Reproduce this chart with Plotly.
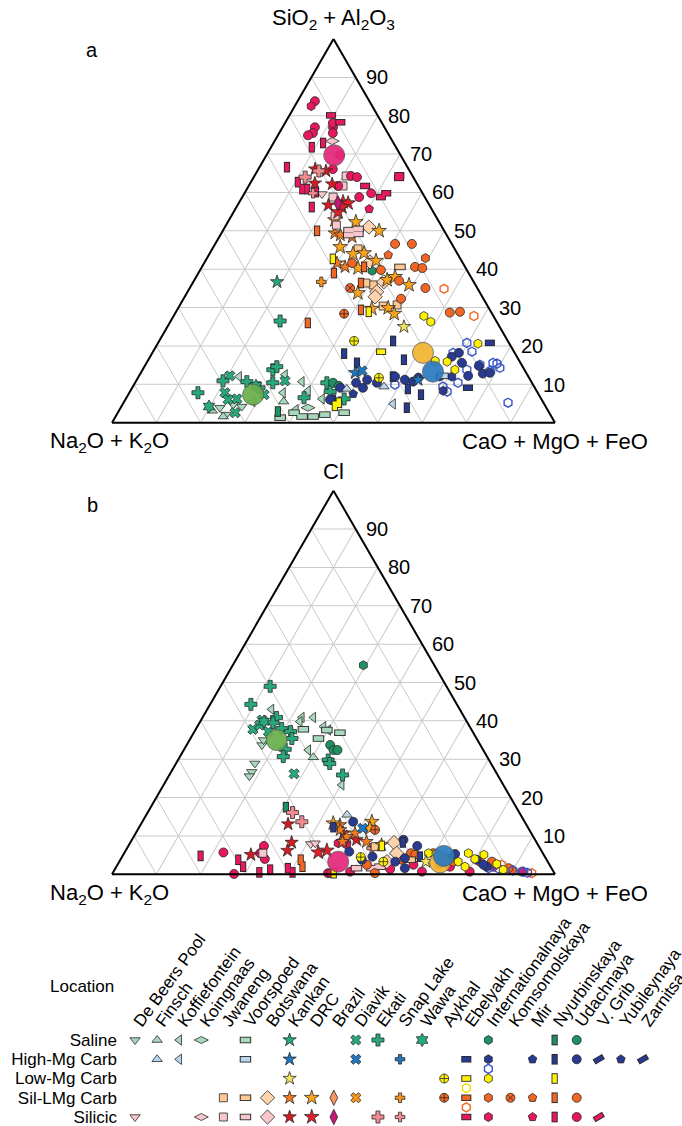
import plotly.graph_objects as go

W, H = 682, 1126
FONT = 'Arial, "Liberation Sans", Helvetica, sans-serif'

# ---------------- axis / label text ----------------
TOP_A_TITLE = 'SiO<sub>2</sub> + Al<sub>2</sub>O<sub>3</sub>'
BOT_A_TITLE = 'Cl'
B_TITLE = 'Na<sub>2</sub>O + K<sub>2</sub>O'
C_TITLE = 'CaO + MgO + FeO'
GRID_VALS = [10, 20, 30, 40, 50, 60, 70, 80, 90]
TICK_LABELS = ['10', '20', '30', '40', '50', '60', '70', '80', '90']

LOCATIONS = ['De Beers Pool', 'Finsch', 'Koffiefontein', 'Koingnaas', 'Jwaneng', 'Voorspoed',
             'Botswana', 'Kankan', 'DRC', 'Brazil', 'Diavik', 'Ekati', 'Snap Lake', 'Wawa',
             'Aykhal', 'Ebelyakh', 'Internationalnaya', 'Komsomolskaya', 'Mir', 'Nyurbinskaya',
             'Udachnaya', 'V. Grib', 'Yubileynaya', 'Zarnitsa']
ROW_NAMES = ['Saline', 'High-Mg Carb', 'Low-Mg Carb', 'Sil-LMg Carb', 'Silicic']
ROW_POS = [4, 3, 2, 1, 0]

# ---------------- panel a: SiO2+Al2O3 (si) vs CaO+MgO+FeO (cmf), Na2O+K2O = remainder -------------
t_dbp_sal_si = [3.9, 2.1, 4.2, 4.7];             t_dbp_sal_cmf = [22.4, 24.7, 27.2, 25.0]
t_fin_sal_si = [3.1, 1.6, 5.5];                  t_fin_sal_cmf = [21.1, 24.3, 36.0]
t_kof_sal_si = [12.0, 12.5, 10.7, 7.8, 8.3, 6.2, 3.4, 5.5]
t_kof_sal_cmf = [22.7, 32.8, 37.5, 34.7, 40.1, 44.3, 39.8, 29.0]
t_koi_sal_si = [3.9];                            t_koi_sal_cmf = [42.3]
t_voo_sal_si = [1.3, 2.6, 1.6, 1.6, 2.1, 2.6];   t_voo_sal_cmf = [37.3, 39.8, 42.1, 44.6, 47.0, 51.1]
t_kan_sal_si = [36.7];                           t_kan_sal_cmf = [18.9]
t_dia_sal_si = [12.2, 7.8, 6.2, 7.3, 10.9, 2.6, 6.0]
t_dia_sal_cmf = [20.5, 21.6, 25.1, 30.7, 33.6, 26.5, 23.2]
t_eka_sal_si = [26.5, 7.8, 10.9, 10.7, 13.8, 10.4, 6.5, 10.4, 8.1, 6.2, 9.1, 14.6]
t_eka_sal_cmf = [24.7, 15.5, 19.6, 25.1, 29.4, 31.1, 40.1, 43.3, 45.2, 49.3, 28.6, 29.9]
t_waw_sal_si = [4.2, 9.6];                       t_waw_sal_cmf = [19.8, 27.7]
t_int_sal_si = [39.6];                           t_int_sal_cmf = [38.9]
t_nyu_sal_si = [2.9];                            t_nyu_sal_cmf = [36.0]
t_uda_sal_si = [10.4, 9.6];                      t_uda_sal_cmf = [44.7, 46.4]

t_fin_hmg_si = [9.4, 8.8];                       t_fin_hmg_cmf = [56.7, 48.6]
t_kof_hmg_si = [4.9];                            t_kof_hmg_cmf = [61.0]
t_voo_hmg_si = [12.2];                           t_voo_hmg_cmf = [68.6]
t_kan_hmg_si = [13.0, 11.2];                     t_kan_hmg_cmf = [48.4, 63.5]
t_dia_hmg_si = [13.5];                           t_dia_hmg_cmf = [49.7]
t_ebe_hmg_si = [20.8, 9.1];                      t_ebe_hmg_cmf = [74.9, 75.8]
t_int_hmg_si = [12.0, 12.0, 8.3];                t_int_hmg_cmf = [68.0, 70.7, 70.6]
t_into_hmg_si = [20.8, 18.2, 18.5, 13.8, 10.4, 15.1, 15.6, 15.4, 13.5, 14.3, 9.4, 8.1, 9.9, 5.2]
t_into_hmg_cmf = [69.7, 67.9, 72.0, 73.2, 72.9, 75.5, 78.2, 79.2, 78.6, 80.4, 70.0, 71.6, 58.9, 86.8]
t_mir_hmg_si = [7.5];                            t_mir_hmg_cmf = [50.7]
t_nyu_hmg_si = [21.3, 18.0, 15.6, 16.4, 12.0, 8.8, 7.3, 3.9, 6.0]
t_nyu_hmg_cmf = [52.8, 43.4, 47.5, 57.7, 57.4, 62.4, 66.1, 64.6, 46.9]
t_uda_hmg_si = [18.2, 17.2, 15.6, 14.8, 12.2, 12.8, 10.4, 11.2, 10.4, 9.1, 9.1, 12.0, 11.2, 10.7,
                11.7, 13.0, 6.0]
t_uda_hmg_cmf = [69.2, 68.1, 71.2, 75.4, 74.3, 77.3, 49.9, 52.0, 54.6, 52.1, 47.0, 57.9, 60.5, 62.6,
                 63.3, 78.8, 46.2]

t_kan_lmg_si = [25.0];                           t_kan_lmg_cmf = [53.4]
t_ayk_lmg_si = [21.3, 11.7];                     t_ayk_lmg_cmf = [44.0, 54.4]
t_ebe_lmg_si = [18.5];                           t_ebe_lmg_cmf = [51.5]
t_int_lmg_si = [27.8, 26.3, 20.6, 16.1, 15.9, 13.8]
t_int_lmg_cmf = [56.5, 58.8, 72.3, 64.9, 67.7, 70.5]
t_nyu_lmg_si = [42.7, 28.9, 4.4, 5.2];           t_nyu_lmg_cmf = [28.5, 43.5, 48.1, 48.6]

t_jwa_slm_si = [45.3, 35.9, 30.4, 30.7, 36.4];   t_jwa_slm_cmf = [32.9, 41.0, 46.0, 49.0, 39.1]
t_voo_slm_si = [40.6];                           t_voo_slm_cmf = [44.7]
t_bot_slm_si = [51.0, 41.9, 36.7, 34.1, 32.8];   t_bot_slm_cmf = [32.5, 37.3, 43.0, 42.7, 43.0]
t_kan_slm_si = [49.4, 48.9, 48.4, 40.6, 41.6];   t_kan_slm_cmf = [25.6, 27.1, 30.0, 32.3, 30.0]
t_drc_slm_si = [52.8, 52.3, 50.0, 45.8, 44.0, 44.2, 40.3, 42.2, 37.2, 38.0, 35.9, 33.8, 29.9, 28.4, 29.7]
t_drc_slm_cmf = [23.9, 28.9, 35.3, 28.6, 32.4, 34.8, 35.4, 38.5, 43.5, 44.9, 49.1, 38.6, 47.4, 49.5, 43.8]
t_sna_slm_si = [36.7];                           t_sna_slm_cmf = [28.9]
t_ayk_slm_si = [28.4];                           t_ayk_slm_cmf = [38.2]
t_ebeo_slm_si = [34.9, 27.8];                    t_ebeo_slm_cmf = [57.5, 67.8]
t_kom_slm_si = [35.1];                           t_kom_slm_cmf = [36.2]
t_mir_slm_si = [43.7];                           t_mir_slm_cmf = [40.5]
t_int_slm_si = [42.9];                           t_int_slm_cmf = [49.3]
t_nyu_slm_si = [50.0, 40.6, 39.0, 36.4, 29.4, 26.0]
t_nyu_slm_cmf = [21.3, 36.6, 30.6, 38.0, 41.5, 31.2]
t_uda_slm_si = [46.6, 46.6, 40.6, 40.3, 41.6, 39.8, 35.1, 37.0, 32.3, 28.7, 28.9]
t_uda_slm_cmf = [40.6, 44.4, 48.1, 49.9, 33.4, 40.8, 53.2, 46.3, 49.1, 61.9, 64.1]

t_dbp_sil_si = [59.6];                           t_dbp_sil_cmf = [17.6]
t_koi_sil_si = [73.4];                           t_koi_sil_cmf = [13.0]
t_jwa_sil_si = [64.3, 61.7, 58.8, 53.9, 51.5];   t_jwa_sil_cmf = [20.7, 21.3, 20.5, 23.4, 24.9]
t_voo_sil_si = [50.2, 50.5, 48.9, 49.2];         t_voo_sil_cmf = [28.4, 30.3, 29.0, 30.9]
t_kan_sil_si = [66.1, 65.6, 62.4, 62.2, 56.7];   t_kan_sil_cmf = [12.8, 15.5, 14.6, 18.6, 20.5]
t_drc_sil_si = [57.5, 57.2, 56.2, 54.9];         t_drc_sil_cmf = [23.4, 24.7, 23.8, 23.6]
t_bra_sil_si = [57.2];                           t_bra_sil_cmf = [22.4]
t_eka_sil_si = [65.6, 64.0];                     t_eka_sil_cmf = [13.9, 11.6]
t_sna_sil_si = [59.8];                           t_sna_sil_cmf = [15.5]
t_ebe_sil_si = [80.1, 78.3, 61.7, 59.8, 58.8, 64.5, 63.8]
t_ebe_sil_cmf = [9.4, 12.4, 26.3, 32.0, 31.3, 32.6, 32.9]
t_int_sil_si = [82.5];                           t_int_sil_cmf = [3.7]
t_mir_sil_si = [55.7];                           t_mir_sil_cmf = [30.2]
t_nyu_sil_si = [72.9, 71.8, 66.6, 62.7, 60.9, 60.9, 60.1, 56.2]
t_nyu_sil_cmf = [11.2, 9.2, 6.2, 10.6, 12.5, 13.6, 16.0, 17.0]
t_uda_sil_si = [83.8, 77.0, 75.5, 74.9, 77.0, 75.5, 69.7, 66.1, 64.3, 64.0, 61.7, 58.8, 59.8, 78.1]
t_uda_sil_cmf = [3.9, 7.3, 7.6, 6.8, 11.4, 12.1, 16.6, 16.8, 21.8, 23.3, 20.2, 26.4, 28.6, 10.8]

# group means (Silicic, Saline, Low-Mg, High-Mg)
t_mean_si = [69.7, 7.3, 18.2, 13.3]
t_mean_cmf = [15.3, 28.2, 61.1, 65.8]

# ---------------- panel b: Cl (cl) vs CaO+MgO+FeO (cmf), Na2O+K2O = remainder ----------------
b_dbp_sal_cl = [28.9, 26.7, 25.6, 33.7, 35.0];   b_dbp_sal_cmf = [17.8, 18.2, 18.2, 17.0, 16.7]
b_fin_sal_cl = [30.5];                           b_fin_sal_cmf = [30.2]
b_kof_sal_cl = [43.0, 40.9, 40.9, 39.8, 38.5, 37.6, 32.4, 23.3]
b_kof_sal_cmf = [14.5, 22.4, 25.0, 22.5, 28.5, 30.0, 28.1, 40.2]
b_voo_sal_cl = [36.9, 35.4, 37.8, 37.6];         b_voo_sal_cmf = [33.0, 28.9, 24.3, 29.7]
b_dia_sal_cl = [40.2, 37.8, 38.9, 37.2, 26.2];   b_dia_sal_cmf = [13.8, 12.9, 13.9, 16.7, 28.0]
b_eka_sal_cl = [49.0, 44.3, 40.9, 39.5, 38.0, 37.2, 35.4, 32.6, 30.7, 29.8, 28.9, 25.9]
b_eka_sal_cmf = [11.2, 9.2, 16.7, 16.6, 19.3, 21.7, 22.9, 22.8, 23.3, 33.9, 34.7, 39.1]
b_waw_sal_cl = [39.8];                           b_waw_sal_cmf = [14.4]
b_int_sal_cl = [54.5];                           b_int_sal_cmf = [29.5]
b_uda_sal_cl = [33.7, 32.4, 32.4];               b_uda_sal_cmf = [32.4, 33.8, 34.7]
b_nyu_sal_cl = [17.5];                           b_nyu_sal_cmf = [30.5]

b_fin_hmg_cl = [15.5];                           b_fin_hmg_cmf = [45.3]
b_dia_hmg_cl = [12.0];                           b_dia_hmg_cmf = [50.6]
b_nyu_hmg_cl = [12.3, 8.3, 4.6];                 b_nyu_hmg_cmf = [43.8, 61.5, 67.2]
b_uda_hmg_cl = [13.7, 7.4, 4.2, 5.3, 2.0, 9.0, 3.8, 2.5, 1.6, 3.3, 2.5, 4.6, 3.8, 5.9]
b_uda_hmg_cmf = [47.6, 65.2, 64.0, 74.8, 83.6, 61.3, 80.4, 82.6, 65.3, 62.3, 72.6, 56.5, 54.5, 50.6]
b_into_hmg_cl = [1.6, 1.5, 0.7, 0.4, 1.0];       b_into_hmg_cmf = [84.2, 86.5, 92.5, 93.6, 90.0]

b_kan_lmg_cl = [3.3];                            b_kan_lmg_cmf = [69.2]
b_ayk_lmg_cl = [4.5, 3.3];                       b_ayk_lmg_cmf = [53.9, 59.6]
b_nyu_lmg_cl = [7.4, 0.3];                       b_nyu_lmg_cmf = [57.2, 49.9]
b_int_lmg_cl = [5.5, 5.3, 3.3, 5.5, 4.0, 5.1, 2.0, 1.2, 3.8, 2.7]
b_int_lmg_cmf = [68.7, 70.5, 76.5, 77.7, 79.9, 81.4, 78.7, 87.7, 73.7, 85.5]

b_drc_slm_cl = [13.7, 13.3, 12.0];               b_drc_slm_cmf = [51.8, 43.3, 52.2]
b_kan_slm_cl = [12.9, 11.6, 10.7, 9.8, 8.5, 7.7, 8.5]
b_kan_slm_cmf = [45.0, 45.7, 49.5, 48.1, 53.2, 57.0, 47.8]
b_ayk_slm_cl = [11.6];                           b_ayk_slm_cmf = [53.6]
b_bot_slm_cl = [8.3, 5.5, 3.3];                  b_bot_slm_cmf = [59.5, 61.5, 60.4]
b_jwa_slm_cl = [7.2];                            b_jwa_slm_cmf = [55.8]
b_voo_slm_cl = [3.8];                            b_voo_slm_cmf = [65.4]
b_int_slm_cl = [4.2];                            b_int_slm_cmf = [74.2]
b_uda_slm_cl = [5.5, 3.3, 2.9, 1.2, 2.5, 0.3, 3.8, 5.1, 5.5, 3.3, 3.3, 1.6]
b_uda_slm_cmf = [64.7, 81.4, 84.6, 89.6, 56.3, 59.2, 63.5, 65.9, 69.8, 75.4, 84.1, 88.7]
b_nyu_slm_cl = [3.8, 2.0];                       b_nyu_slm_cmf = [40.7, 42.0]
b_ebeo_slm_cl = [2.5, 0.3];                      b_ebeo_slm_cmf = [86.7, 94.6]

b_dbp_sil_cl = [7.9, 8.1];                       b_dbp_sil_cmf = [40.9, 41.8]
b_jwa_sil_cl = [5.5];                            b_jwa_sil_cmf = [31.3]
b_voo_sil_cl = [1.6, 1.6, 2.0];                  b_voo_sil_cmf = [54.4, 57.8, 59.5]
b_kan_sil_cl = [13.1, 8.3, 6.2, 5.1, 10.7, 9.0]; b_kan_sil_cmf = [33.2, 36.4, 36.5, 28.8, 46.9, 50.7]
b_drc_sil_cl = [6.2, 5.7];                       b_drc_sil_cmf = [45.4, 43.7]
b_bra_sil_cl = [9.2];                            b_bra_sil_cmf = [48.2]
b_eka_sil_cl = [16.1, 13.7];                     b_eka_sil_cmf = [32.7, 36.0]
b_sna_sil_cl = [6.8];                            b_sna_sil_cmf = [55.2]
b_int_sil_cl = [0.3, 7.7, 8.1];                  b_int_sil_cmf = [49.1, 49.1, 47.0]
b_nyu_sil_cl = [4.8, 3.8, 2.0, 0.5, 1.2, 1.6, 0.5]
b_nyu_sil_cmf = [17.6, 26.6, 28.6, 33.0, 35.1, 38.9, 40.5]
b_uda_sil_cl = [5.7, 0.1, 7.4, 5.5, 4.0, 0.7, 1.4, 2.5, 0.7, 2.0, 0.7, 2.0, 0.3, 0.7]
b_uda_sil_cmf = [22.3, 27.5, 30.6, 30.7, 32.5, 53.4, 62.1, 66.8, 69.6, 75.3, 80.4, 85.1, 48.6, 92.2]

b_mean_cl = [3.3, 35.0, 3.1, 4.8]
b_mean_cmf = [49.4, 19.7, 72.5, 72.5]

# ---------------- legend matrix (location, row position, group) ----------------
leg_loc = ['De Beers Pool', 'De Beers Pool', 'Finsch', 'Finsch', 'Koffiefontein', 'Koffiefontein',
           'Koingnaas', 'Koingnaas', 'Jwaneng', 'Jwaneng',
           'Voorspoed', 'Voorspoed', 'Voorspoed', 'Voorspoed', 'Botswana', 'Botswana',
           'Kankan', 'Kankan', 'Kankan', 'Kankan', 'Kankan', 'DRC', 'DRC', 'Brazil', 'Brazil',
           'Diavik', 'Diavik', 'Diavik', 'Ekati', 'Ekati', 'Snap Lake', 'Snap Lake', 'Snap Lake',
           'Wawa', 'Aykhal', 'Aykhal',
           'Ebelyakh', 'Ebelyakh', 'Ebelyakh', 'Ebelyakh', 'Ebelyakh', 'Ebelyakh',
           'Internationalnaya', 'Internationalnaya', 'Internationalnaya', 'Internationalnaya',
           'Internationalnaya', 'Internationalnaya', 'Komsomolskaya', 'Mir', 'Mir', 'Mir',
           'Nyurbinskaya', 'Nyurbinskaya', 'Nyurbinskaya', 'Nyurbinskaya', 'Nyurbinskaya',
           'Udachnaya', 'Udachnaya', 'Udachnaya', 'Udachnaya', 'V. Grib', 'V. Grib',
           'Yubileynaya', 'Zarnitsa']
leg_row = [4, 0, 4, 3, 4, 3, 4, 0, 1, 0,
           4, 3, 1, 0, 1, 0,
           4, 3, 2, 1, 0, 1, 0, 1, 0,
           4, 3, 1, 4, 0, 3, 1, 0,
           4, 2, 1,
           3, 2, 1.5, 1, 0.5, 0,
           4, 3, 2.5, 2, 1, 0, 1, 3, 1, 0,
           4, 3, 2, 1, 0,
           4, 3, 1, 0, 3, 0,
           3, 3]
leg_key = ['DBP_SAL', 'DBP_SIL', 'FIN_SAL', 'FIN_HMG', 'KOF_SAL', 'KOF_HMG', 'KOI_SAL', 'KOI_SIL',
           'JWA_SLM', 'JWA_SIL', 'VOO_SAL', 'VOO_HMG', 'VOO_SLM', 'VOO_SIL', 'BOT_SLM', 'BOT_SIL',
           'KAN_SAL', 'KAN_HMG', 'KAN_LMG', 'KAN_SLM', 'KAN_SIL', 'DRC_SLM', 'DRC_SIL',
           'BRA_SLM', 'BRA_SIL', 'DIA_SAL', 'DIA_HMG', 'DIA_SLM', 'EKA_SAL', 'EKA_SIL',
           'SNA_HMG', 'SNA_SLM', 'SNA_SIL', 'WAW_SAL', 'AYK_LMG', 'AYK_SLM',
           'EBE_HMG', 'EBE_LMG', 'EBEO_LMG', 'EBE_SLM', 'EBEO_SLM', 'EBE_SIL',
           'INT_SAL', 'INT_HMG', 'INTO_HMG', 'INT_LMG', 'INT_SLM', 'INT_SIL', 'KOM_SLM',
           'MIR_HMG', 'MIR_SLM', 'MIR_SIL',
           'NYU_SAL', 'NYU_HMG', 'NYU_LMG', 'NYU_SLM', 'NYU_SIL',
           'UDA_SAL', 'UDA_HMG', 'UDA_SLM', 'UDA_SIL', 'VGR_HMG', 'VGR_SIL', 'YUB_HMG', 'ZAR_HMG']

# ---------------- styles ----------------
OUT = '#2a2a2a'
SAL_LT, SAL_GR, SAL_DK = '#a9d9bc', '#27a97c', '#1f9061'
HMG_LT, HMG_BL, NAVY, HMG_OPEN = '#bcd6ee', '#1f77bf', '#283a91', '#3a55c8'
YEL, YEL_KAN = '#fff200', '#f1e55e'
ORG, ORG_LT, ORG_BOT, ORG_DRC, ORG_DIA, ORG_KAN, ORG_BRA = ('#f26522', '#fdc893', '#fcd3ad',
                                                            '#f9a41b', '#f7941d', '#f47a20', '#f5955e')
MAG, SIL_LT, SIL_RED, SIL_RED2, SIL_BRA, SIL_PINK = ('#e8185e', '#f7c7cc', '#d71920', '#e3202a',
                                                      '#c4177a', '#f28a90')

STYLE = {
    'DBP_SAL': ('triangle-down', SAL_LT, 9), 'FIN_SAL': ('triangle-up', SAL_LT, 9),
    'KOF_SAL': ('triangle-left', SAL_LT, 9), 'KOI_SAL': ('diamond-wide', SAL_LT, 10),
    'VOO_SAL': ('rect', SAL_LT, 0), 'KAN_SAL': ('star', SAL_GR, 10), 'DIA_SAL': ('x', SAL_GR, 9),
    'EKA_SAL': ('cross', SAL_GR, 10), 'WAW_SAL': ('hexagram', SAL_GR, 10),
    'INT_SAL': ('hexagon', SAL_DK, 9), 'NYU_SAL': ('vell', SAL_DK, 0), 'UDA_SAL': ('circle', SAL_DK, 9),
    'FIN_HMG': ('triangle-up', HMG_LT, 9), 'KOF_HMG': ('triangle-left', HMG_LT, 9),
    'VOO_HMG': ('rect', HMG_LT, 0), 'KAN_HMG': ('star', HMG_BL, 10), 'DIA_HMG': ('x', HMG_BL, 9),
    'SNA_HMG': ('cross', HMG_BL, 8), 'EBE_HMG': ('hell', NAVY, 0), 'INT_HMG': ('hexagon', NAVY, 9),
    'INTO_HMG': ('hexagon-open', HMG_OPEN, 9), 'MIR_HMG': ('pentagon', NAVY, 9),
    'NYU_HMG': ('vell', NAVY, 0), 'UDA_HMG': ('circle', NAVY, 9), 'VGR_HMG': ('tell', NAVY, 0),
    'YUB_HMG': ('pentagon', NAVY, 9), 'ZAR_HMG': ('tell', NAVY, 0),
    'KAN_LMG': ('star', YEL_KAN, 10), 'AYK_LMG': ('circle-cross', YEL, 9), 'EBE_LMG': ('hell', YEL, 0),
    'EBEO_LMG': ('hexagon-open', '#f2e200', 9), 'INT_LMG': ('hexagon', YEL, 9),
    'NYU_LMG': ('vell', YEL, 0),
    'JWA_SLM': ('square', ORG_LT, 8), 'VOO_SLM': ('rect', ORG_LT, 0), 'BOT_SLM': ('diamond', ORG_BOT, 11),
    'KAN_SLM': ('star', ORG_KAN, 10), 'DRC_SLM': ('star', ORG_DRC, 11), 'BRA_SLM': ('diamond-tall', ORG_BRA, 11),
    'DIA_SLM': ('x', ORG_DIA, 9), 'SNA_SLM': ('cross', ORG_DIA, 8), 'AYK_SLM': ('circle-cross', ORG, 9),
    'EBE_SLM': ('hell', ORG, 0), 'EBEO_SLM': ('hexagon-open', ORG, 9), 'INT_SLM': ('hexagon', ORG, 9),
    'KOM_SLM': ('circle-x', ORG, 9), 'MIR_SLM': ('pentagon', ORG, 9), 'NYU_SLM': ('vell', ORG, 0),
    'UDA_SLM': ('circle', ORG, 9),
    'DBP_SIL': ('triangle-down', SIL_LT, 9), 'KOI_SIL': ('diamond-wide', SIL_LT, 10),
    'JWA_SIL': ('square', SIL_LT, 8), 'VOO_SIL': ('rect', SIL_LT, 0), 'BOT_SIL': ('diamond', SIL_LT, 11),
    'KAN_SIL': ('star', SIL_RED, 10), 'DRC_SIL': ('star', SIL_RED2, 11), 'BRA_SIL': ('diamond-tall', SIL_BRA, 11),
    'EKA_SIL': ('cross', SIL_PINK, 10), 'SNA_SIL': ('cross', SIL_PINK, 8), 'EBE_SIL': ('hell', MAG, 0),
    'INT_SIL': ('hexagon', MAG, 9), 'MIR_SIL': ('pentagon', MAG, 9), 'NYU_SIL': ('vell', MAG, 0),
    'UDA_SIL': ('circle', MAG, 9), 'VGR_SIL': ('tell', MAG, 0),
}
# elongated marks: (plotly line symbol, angle, marker size, stroke thickness); plotly draws
# line symbols 1.4x the marker size long
LINE_MARKS = {'rect': ('line-ew-open', 0, 8.2, 6.5), 'hell': ('line-ew-open', 0, 7.2, 6.5),
              'vell': ('line-ns-open', 0, 7.6, 6.2), 'tell': ('line-ew-open', -30, 7.8, 5.8)}
MEAN_COLORS = ['#e5287c', '#6ab04c', '#f2b533', '#2b7bbf']

TOP_GROUPS = [
    ('DBP_SAL', t_dbp_sal_si, t_dbp_sal_cmf), ('FIN_SAL', t_fin_sal_si, t_fin_sal_cmf),
    ('KOF_SAL', t_kof_sal_si, t_kof_sal_cmf), ('KOI_SAL', t_koi_sal_si, t_koi_sal_cmf),
    ('VOO_SAL', t_voo_sal_si, t_voo_sal_cmf), ('KAN_SAL', t_kan_sal_si, t_kan_sal_cmf),
    ('DIA_SAL', t_dia_sal_si, t_dia_sal_cmf), ('EKA_SAL', t_eka_sal_si, t_eka_sal_cmf),
    ('WAW_SAL', t_waw_sal_si, t_waw_sal_cmf), ('INT_SAL', t_int_sal_si, t_int_sal_cmf),
    ('NYU_SAL', t_nyu_sal_si, t_nyu_sal_cmf), ('UDA_SAL', t_uda_sal_si, t_uda_sal_cmf),
    ('JWA_SLM', t_jwa_slm_si, t_jwa_slm_cmf), ('VOO_SLM', t_voo_slm_si, t_voo_slm_cmf),
    ('BOT_SLM', t_bot_slm_si, t_bot_slm_cmf), ('KAN_SLM', t_kan_slm_si, t_kan_slm_cmf),
    ('DRC_SLM', t_drc_slm_si, t_drc_slm_cmf), ('SNA_SLM', t_sna_slm_si, t_sna_slm_cmf),
    ('AYK_SLM', t_ayk_slm_si, t_ayk_slm_cmf), ('EBEO_SLM', t_ebeo_slm_si, t_ebeo_slm_cmf),
    ('KOM_SLM', t_kom_slm_si, t_kom_slm_cmf), ('MIR_SLM', t_mir_slm_si, t_mir_slm_cmf),
    ('INT_SLM', t_int_slm_si, t_int_slm_cmf), ('NYU_SLM', t_nyu_slm_si, t_nyu_slm_cmf),
    ('UDA_SLM', t_uda_slm_si, t_uda_slm_cmf),
    ('DBP_SIL', t_dbp_sil_si, t_dbp_sil_cmf), ('KOI_SIL', t_koi_sil_si, t_koi_sil_cmf),
    ('JWA_SIL', t_jwa_sil_si, t_jwa_sil_cmf), ('VOO_SIL', t_voo_sil_si, t_voo_sil_cmf),
    ('NYU_SIL', t_nyu_sil_si, t_nyu_sil_cmf), ('UDA_SIL', t_uda_sil_si, t_uda_sil_cmf),
    ('EBE_SIL', t_ebe_sil_si, t_ebe_sil_cmf), ('INT_SIL', t_int_sil_si, t_int_sil_cmf),
    ('MIR_SIL', t_mir_sil_si, t_mir_sil_cmf), ('KAN_SIL', t_kan_sil_si, t_kan_sil_cmf),
    ('DRC_SIL', t_drc_sil_si, t_drc_sil_cmf), ('BRA_SIL', t_bra_sil_si, t_bra_sil_cmf),
    ('EKA_SIL', t_eka_sil_si, t_eka_sil_cmf), ('SNA_SIL', t_sna_sil_si, t_sna_sil_cmf),
    ('INTO_HMG', t_into_hmg_si, t_into_hmg_cmf), ('NYU_HMG', t_nyu_hmg_si, t_nyu_hmg_cmf),
    ('UDA_HMG', t_uda_hmg_si, t_uda_hmg_cmf), ('INT_HMG', t_int_hmg_si, t_int_hmg_cmf),
    ('EBE_HMG', t_ebe_hmg_si, t_ebe_hmg_cmf), ('MIR_HMG', t_mir_hmg_si, t_mir_hmg_cmf),
    ('FIN_HMG', t_fin_hmg_si, t_fin_hmg_cmf), ('KOF_HMG', t_kof_hmg_si, t_kof_hmg_cmf),
    ('VOO_HMG', t_voo_hmg_si, t_voo_hmg_cmf), ('KAN_HMG', t_kan_hmg_si, t_kan_hmg_cmf),
    ('DIA_HMG', t_dia_hmg_si, t_dia_hmg_cmf),
    ('KAN_LMG', t_kan_lmg_si, t_kan_lmg_cmf), ('AYK_LMG', t_ayk_lmg_si, t_ayk_lmg_cmf),
    ('EBE_LMG', t_ebe_lmg_si, t_ebe_lmg_cmf), ('INT_LMG', t_int_lmg_si, t_int_lmg_cmf),
    ('NYU_LMG', t_nyu_lmg_si, t_nyu_lmg_cmf),
]
BOT_GROUPS = [
    ('DBP_SAL', b_dbp_sal_cl, b_dbp_sal_cmf), ('FIN_SAL', b_fin_sal_cl, b_fin_sal_cmf),
    ('KOF_SAL', b_kof_sal_cl, b_kof_sal_cmf), ('VOO_SAL', b_voo_sal_cl, b_voo_sal_cmf),
    ('DIA_SAL', b_dia_sal_cl, b_dia_sal_cmf), ('EKA_SAL', b_eka_sal_cl, b_eka_sal_cmf),
    ('WAW_SAL', b_waw_sal_cl, b_waw_sal_cmf), ('INT_SAL', b_int_sal_cl, b_int_sal_cmf),
    ('UDA_SAL', b_uda_sal_cl, b_uda_sal_cmf), ('NYU_SAL', b_nyu_sal_cl, b_nyu_sal_cmf),
    ('NYU_SIL', b_nyu_sil_cl, b_nyu_sil_cmf), ('UDA_SIL', b_uda_sil_cl, b_uda_sil_cmf),
    ('INT_SIL', b_int_sil_cl, b_int_sil_cmf), ('DBP_SIL', b_dbp_sil_cl, b_dbp_sil_cmf),
    ('JWA_SIL', b_jwa_sil_cl, b_jwa_sil_cmf), ('VOO_SIL', b_voo_sil_cl, b_voo_sil_cmf),
    ('KAN_SIL', b_kan_sil_cl, b_kan_sil_cmf), ('DRC_SIL', b_drc_sil_cl, b_drc_sil_cmf),
    ('BRA_SIL', b_bra_sil_cl, b_bra_sil_cmf), ('EKA_SIL', b_eka_sil_cl, b_eka_sil_cmf),
    ('SNA_SIL', b_sna_sil_cl, b_sna_sil_cmf),
    ('UDA_SLM', b_uda_slm_cl, b_uda_slm_cmf), ('NYU_SLM', b_nyu_slm_cl, b_nyu_slm_cmf),
    ('EBEO_SLM', b_ebeo_slm_cl, b_ebeo_slm_cmf), ('INT_SLM', b_int_slm_cl, b_int_slm_cmf),
    ('BOT_SLM', b_bot_slm_cl, b_bot_slm_cmf), ('JWA_SLM', b_jwa_slm_cl, b_jwa_slm_cmf),
    ('VOO_SLM', b_voo_slm_cl, b_voo_slm_cmf), ('KAN_SLM', b_kan_slm_cl, b_kan_slm_cmf),
    ('DRC_SLM', b_drc_slm_cl, b_drc_slm_cmf), ('AYK_SLM', b_ayk_slm_cl, b_ayk_slm_cmf),
    ('INTO_HMG', b_into_hmg_cl, b_into_hmg_cmf), ('UDA_HMG', b_uda_hmg_cl, b_uda_hmg_cmf),
    ('NYU_HMG', b_nyu_hmg_cl, b_nyu_hmg_cmf), ('FIN_HMG', b_fin_hmg_cl, b_fin_hmg_cmf),
    ('DIA_HMG', b_dia_hmg_cl, b_dia_hmg_cmf),
    ('INT_LMG', b_int_lmg_cl, b_int_lmg_cmf), ('NYU_LMG', b_nyu_lmg_cl, b_nyu_lmg_cmf),
    ('AYK_LMG', b_ayk_lmg_cl, b_ayk_lmg_cmf), ('KAN_LMG', b_kan_lmg_cl, b_kan_lmg_cmf),
]


def make_trace(where, u, v, marker):
    common = dict(mode='markers', marker=marker, hoverinfo='skip', showlegend=False, cliponaxis=False)
    if where == 'xy':
        return go.Scatter(x=u, y=v, xaxis='x', yaxis='y', **common)
    rest = [round(100 - p - q, 2) for p, q in zip(u, v)]
    return go.Scatterternary(a=u, b=rest, c=v, subplot=where, **common)


def add_group(fig, key, u, v, where):
    sym, col, size = STYLE[key]
    if sym in LINE_MARKS:
        lsym, ang, msize, thick = LINE_MARKS[sym]
        fig.add_trace(make_trace(where, u, v, dict(symbol=lsym, color=OUT, size=msize, angle=ang,
                                                    line=dict(width=thick))))
        fig.add_trace(make_trace(where, u, v, dict(symbol=lsym, color=col, size=msize - 1.4, angle=ang,
                                                    line=dict(width=thick - 1.8))))
    elif sym.endswith('-open'):
        fig.add_trace(make_trace(where, u, v, dict(symbol=sym, color=col, size=size, line=dict(width=1.4))))
    else:
        fig.add_trace(make_trace(where, u, v, dict(symbol=sym, color=col, size=size,
                                                    line=dict(color=OUT, width=0.8))))


fig = go.Figure()
for key, u, v in TOP_GROUPS:
    add_group(fig, key, u, v, 'ternary')
for key, u, v in BOT_GROUPS:
    add_group(fig, key, u, v, 'ternary2')
for sub, mu, mv in (('ternary', t_mean_si, t_mean_cmf), ('ternary2', b_mean_cl, b_mean_cmf)):
    fig.add_trace(make_trace(sub, mu, mv, dict(symbol='circle', color=MEAN_COLORS, size=21, opacity=0.93,
                                               line=dict(color='#555555', width=0.8))))
for loc, row, key in zip(leg_loc, leg_row, leg_key):
    add_group(fig, key, [loc], [row], 'xy')

# triangle geometry in page pixels (left x, right x, apex y, base y)
TRI_X0, TRI_X1 = 112, 555
TOP_Y = (38.7, 423)
BOT_Y = (490.5, 874.5)


def ternary_layout(ys):
    ax = dict(tickmode='array', tickvals=GRID_VALS, ticks='', linecolor='black', linewidth=2,
              gridcolor='#c9c9c9', gridwidth=1.2, min=0, showticklabels=False, title=dict(text=''))
    return dict(domain=dict(x=[TRI_X0 / W, TRI_X1 / W], y=[(H - ys[1]) / H, (H - ys[0]) / H]),
                sum=100, bgcolor='white', aaxis=ax, baxis=ax, caxis=ax)


def paper_text(text, xp, yp, size, xanchor='center'):
    return dict(text=text, x=xp / W, y=1 - yp / H, xref='paper', yref='paper', showarrow=False,
                xanchor=xanchor, yanchor='middle', font=dict(size=size, color='black'))


annotations = []
for ys, a_title in ((TOP_Y, TOP_A_TITLE), (BOT_Y, BOT_A_TITLE)):
    apex_y, base_y = ys
    annotations.append(paper_text(a_title, (TRI_X0 + TRI_X1) / 2, apex_y - 19.5, 22))
    annotations.append(paper_text(B_TITLE, TRI_X0 - 3, base_y + 19, 22))
    annotations.append(paper_text(C_TITLE, TRI_X1, base_y + 19, 22))
    # apex-component tick labels along the right-hand edge
    for val, lab in zip(GRID_VALS, TICK_LABELS):
        gy = base_y - val / 100 * (base_y - apex_y)
        gx = TRI_X1 - val / 100 * (TRI_X1 - TRI_X0) / 2
        annotations.append(paper_text(lab, gx + 8, gy, 20, xanchor='left'))
annotations.append(paper_text('a', 92, 50, 20))
annotations.append(paper_text('b', 92, 505, 20))
annotations.append(paper_text('Location', 116, 986, 17, xanchor='right'))

fig.update_layout(
    width=W, height=H, autosize=False, margin=dict(l=0, r=0, t=0, b=0),
    paper_bgcolor='white', plot_bgcolor='white',
    font=dict(family=FONT, color='black'),
    ternary=ternary_layout(TOP_Y),
    ternary2=ternary_layout(BOT_Y),
    xaxis=dict(domain=[124 / W, 654 / W], type='category', categoryorder='array',
               categoryarray=LOCATIONS, range=[-0.5, 23.5], side='top', tickangle=-54,
               anchor='free', position=(H - 1035) / H,
               tickfont=dict(size=17), ticks='', showgrid=False, zeroline=False, showline=False,
               automargin=False, fixedrange=True, ticklabeloverflow='allow'),
    yaxis=dict(domain=[(H - 1124.7) / H, (H - 1030.4) / H], range=[-0.4, 4.5], tickmode='array',
               tickvals=ROW_POS, ticktext=ROW_NAMES, tickfont=dict(size=17), ticks='',
               ticklabelstandoff=6, showgrid=False, zeroline=False, showline=False,
               automargin=False, fixedrange=True, ticklabeloverflow='allow'),
    annotations=annotations,
)

fig.write_html("out.html", config={'displayModeBar': False},
               post_script="document.body.style.margin='0';")
